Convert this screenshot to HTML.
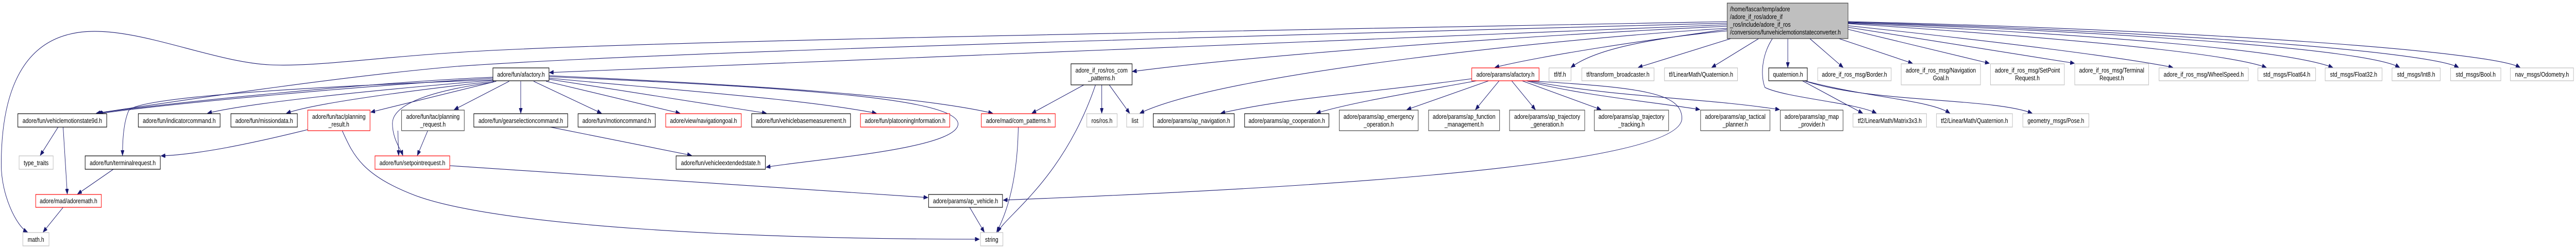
<!DOCTYPE html>
<html><head><meta charset="utf-8"><style>
html,body{margin:0;padding:0;background:#fff;overflow:hidden;width:100%;height:100%;}
svg{display:block;width:100vw;height:100vh;}
text{font-family:"Liberation Sans",Arial,sans-serif;font-size:13px;fill:#000;}
.e{fill:none;stroke:#191970;stroke-width:1.1;marker-end:url(#a);}
.b{fill:#fff;stroke:#000;stroke-width:1.2;}
.r{fill:#fff;stroke:#ff0000;stroke-width:1.2;}
.g{fill:#fff;stroke:#bfbfbf;stroke-width:1.2;}
.d{fill:#fff;stroke:#404040;stroke-width:1.2;}
</style></head><body>
<svg viewBox="0 0 6203 484" preserveAspectRatio="none" xmlns="http://www.w3.org/2000/svg">
<defs><marker id="a" markerUnits="userSpaceOnUse" markerWidth="11" markerHeight="8" refX="10" refY="4" orient="auto"><path d="M0,0 L10,4 L0,8 z" fill="#191970" stroke="#191970"/></marker></defs>

<path class="e" d="M4159,42 C3000,60 1500,80 1100,102 C900,112 760,130 650,126 C500,120 300,40 170,66 C40,90 3,200 3,320 C3,380 40,440 66,451"/>
<path class="e" d="M4159,45 C3000,70 1600,100 1100,129 C800,150 400,200 232,220"/>
<path class="e" d="M4159,48 C3500,70 2500,100 1323,141"/>
<path class="e" d="M4159,51 C3600,72 3000,110 2727,139"/>
<path class="e" d="M4159,55 C3800,72 2950,140 2745,220"/>
<path class="e" d="M4159,60 C4000,72 3700,110 3600,131"/>
<path class="e" d="M4159,57 C4000,75 3850,90 3783,131"/>
<path class="e" d="M4168,75 L3945,131"/>
<path class="e" d="M4235,75 L4122,131"/>
<path class="e" d="M4305,75 L4305,131"/>
<path class="e" d="M4358,75 L4438,131"/>
<path class="e" d="M4428,75 L4605,123"/>
<path class="e" d="M4450,57 L4790,123"/>
<path class="e" d="M4450,53 L4995,123"/>
<path class="e" d="M4450,50 C4800,80 5100,110 5232,131"/>
<path class="e" d="M4450,46 C4900,70 5350,100 5457,131"/>
<path class="e" d="M4450,45 C5000,65 5500,95 5617,131"/>
<path class="e" d="M4450,44 C5100,62 5700,95 5778,131"/>
<path class="e" d="M4450,43 C5200,60 5850,100 5920,131"/>
<path class="e" d="M4450,42 C5300,58 6000,100 6068,131"/>
<path class="e" d="M4268,75 C4240,110 4240,150 4250,170 C4300,190 4470,200 4518,220"/>
<path class="e" d="M1187,150 C900,160 400,200 236,220"/>
<path class="e" d="M1187,152 C900,165 420,200 238,221"/>
<path class="e" d="M1187,155 C700,170 330,190 310,215 C296,240 295,280 295,302"/>
<path class="e" d="M1187,156 C900,175 600,200 500,220"/>
<path class="e" d="M1190,158 C1000,175 760,200 690,220"/>
<path class="e" d="M1195,158 L893,218"/>
<path class="e" d="M1187,160 C1050,175 945,200 945,240 C945,270 965,290 970,302"/>
<path class="e" d="M1226,158 L1094,213"/>
<path class="e" d="M1254,158 L1254,220"/>
<path class="e" d="M1285,158 L1448,220"/>
<path class="e" d="M1315,158 L1637,220"/>
<path class="e" d="M1322,154 L1845,220"/>
<path class="e" d="M1322,152 C1700,180 1950,195 2110,220"/>
<path class="e" d="M1322,147 C1800,165 2200,185 2390,220"/>
<path class="e" d="M1322,149 C1900,170 2300,190 2307,240 C2310,290 1950,310 1845,325"/>
<path class="e" d="M1325,247 L1665,302"/>
<path class="e" d="M741,252 C600,280 480,300 388,303"/>
<path class="e" d="M958,254 L960,302"/>
<path class="e" d="M824,254 C850,300 870,340 1000,380 C1200,440 1800,465 2358,465"/>
<path class="e" d="M1030,254 L1005,302"/>
<path class="e" d="M1083,322 C1500,345 2000,370 2234,384"/>
<path class="e" d="M140,247 L97,302"/>
<path class="e" d="M152,247 L162,377"/>
<path class="e" d="M273,329 L187,377"/>
<path class="e" d="M152,403 L104,451"/>
<path class="e" d="M2610,165 L2485,220"/>
<path class="e" d="M2638,165 C2560,350 2420,420 2403,451"/>
<path class="e" d="M2653,165 L2653,220"/>
<path class="e" d="M2671,165 L2720,220"/>
<path class="e" d="M2452,247 C2450,360 2420,420 2400,451"/>
<path class="e" d="M2335,403 L2370,451"/>
<path class="e" d="M3544,153 C3300,180 3100,190 2940,220"/>
<path class="e" d="M3556,157 C3400,180 3250,200 3170,220"/>
<path class="e" d="M3585,157 L3388,213"/>
<path class="e" d="M3610,157 L3553,213"/>
<path class="e" d="M3640,157 L3697,213"/>
<path class="e" d="M3665,157 L3855,213"/>
<path class="e" d="M3675,157 C3800,185 4000,200 4093,213"/>
<path class="e" d="M3680,157 C3900,190 4100,190 4285,213"/>
<path class="e" d="M3680,157 C3950,170 4050,180 4050,230 C4050,330 3000,370 2416,389"/>
<path class="e" d="M4340,157 L4485,220"/>
<path class="e" d="M4345,157 C4500,190 4650,195 4695,220"/>
<path class="e" d="M4345,157 C4500,200 4800,190 4893,220"/>

<rect x="4159" y="6" width="291" height="69" fill="#bfbfbf" stroke="#404040" stroke-width="1.2"/>
<text x="4166" y="22">/home/fascar/temp/adore</text>
<text x="4166" y="37">/adore_if_ros/adore_if</text>
<text x="4166" y="52">_ros/include/adore_if_ros</text>
<text x="4166" y="67">/conversions/funvehiclemotionstateconverter.h</text>

<rect class="b" x="1187" y="132" width="135" height="25"/><text x="1254.5" y="149" text-anchor="middle">adore/fun/afactory.h</text>
<rect class="r" x="3544" y="132" width="162" height="25"/><text x="3625" y="149" text-anchor="middle">adore/params/afactory.h</text>
<rect class="g" x="3730" y="132" width="53" height="25"/><text x="3756.5" y="149" text-anchor="middle">tf/tf.h</text>
<rect class="g" x="3809" y="132" width="174" height="25"/><text x="3896" y="149" text-anchor="middle">tf/transform_broadcaster.h</text>
<rect class="g" x="4008" y="132" width="176" height="25"/><text x="4096" y="149" text-anchor="middle">tf/LinearMath/Quaternion.h</text>
<rect class="b" x="4259" y="132" width="93" height="25"/><text x="4305.5" y="149" text-anchor="middle">quaternion.h</text>
<rect class="g" x="4377" y="132" width="177" height="25"/><text x="4465.5" y="149" text-anchor="middle">adore_if_ros_msg/Border.h</text>
<rect class="g" x="5199" y="132" width="215" height="25"/><text x="5306.5" y="149" text-anchor="middle">adore_if_ros_msg/WheelSpeed.h</text>
<rect class="g" x="5437" y="132" width="139" height="25"/><text x="5506.5" y="149" text-anchor="middle">std_msgs/Float64.h</text>
<rect class="g" x="5599" y="132" width="137" height="25"/><text x="5667.5" y="149" text-anchor="middle">std_msgs/Float32.h</text>
<rect class="g" x="5760" y="132" width="116" height="25"/><text x="5818" y="149" text-anchor="middle">std_msgs/Int8.h</text>
<rect class="g" x="5901" y="132" width="121" height="25"/><text x="5961.5" y="149" text-anchor="middle">std_msgs/Bool.h</text>
<rect class="g" x="6045" y="132" width="152" height="25"/><text x="6121" y="149" text-anchor="middle">nav_msgs/Odometry.h</text>

<rect class="b" x="2579" y="124" width="147" height="41"/><text x="2652.5" y="141" text-anchor="middle">adore_if_ros/ros_com</text><text x="2652.5" y="156" text-anchor="middle">_patterns.h</text>
<rect class="g" x="4578" y="124" width="191" height="41"/><text x="4673.5" y="141" text-anchor="middle">adore_if_ros_msg/Navigation</text><text x="4673.5" y="156" text-anchor="middle">Goal.h</text>
<rect class="g" x="4793" y="124" width="178" height="41"/><text x="4882" y="141" text-anchor="middle">adore_if_ros_msg/SetPoint</text><text x="4882" y="156" text-anchor="middle">Request.h</text>
<rect class="g" x="4996" y="124" width="178" height="41"/><text x="5085" y="141" text-anchor="middle">adore_if_ros_msg/Terminal</text><text x="5085" y="156" text-anchor="middle">Request.h</text>

<rect class="b" x="43" y="221" width="214" height="26"/><text x="150" y="239" text-anchor="middle">adore/fun/vehiclemotionstate9d.h</text>
<rect class="b" x="333" y="221" width="197" height="26"/><text x="431.5" y="239" text-anchor="middle">adore/fun/indicatorcommand.h</text>
<rect class="b" x="556" y="221" width="160" height="26"/><text x="636" y="239" text-anchor="middle">adore/fun/missiondata.h</text>
<rect class="b" x="1141" y="221" width="226" height="26"/><text x="1254" y="239" text-anchor="middle">adore/fun/gearselectioncommand.h</text>
<rect class="b" x="1392" y="221" width="186" height="26"/><text x="1485" y="239" text-anchor="middle">adore/fun/motioncommand.h</text>
<rect class="r" x="1603" y="221" width="182" height="26"/><text x="1694" y="239" text-anchor="middle">adore/view/navigationgoal.h</text>
<rect class="b" x="1810" y="221" width="238" height="26"/><text x="1929" y="239" text-anchor="middle">adore/fun/vehiclebasemeasurement.h</text>
<rect class="r" x="2072" y="221" width="215" height="26"/><text x="2179.5" y="239" text-anchor="middle">adore/fun/platooningInformation.h</text>
<rect class="r" x="2363" y="221" width="178" height="26"/><text x="2452" y="239" text-anchor="middle">adore/mad/com_patterns.h</text>
<rect class="g" x="2617" y="221" width="73" height="26"/><text x="2653.5" y="239" text-anchor="middle">ros/ros.h</text>
<rect class="g" x="2713" y="221" width="40" height="26"/><text x="2733" y="239" text-anchor="middle">list</text>
<rect class="b" x="2777" y="221" width="195" height="26"/><text x="2874.5" y="239" text-anchor="middle">adore/params/ap_navigation.h</text>
<rect class="b" x="2997" y="221" width="203" height="26"/><text x="3098.5" y="239" text-anchor="middle">adore/params/ap_cooperation.h</text>
<rect class="g" x="4462" y="221" width="177" height="26"/><text x="4550.5" y="239" text-anchor="middle">tf2/LinearMath/Matrix3x3.h</text>
<rect class="g" x="4663" y="221" width="183" height="26"/><text x="4754.5" y="239" text-anchor="middle">tf2/LinearMath/Quaternion.h</text>
<rect class="g" x="4871" y="221" width="159" height="26"/><text x="4950.5" y="239" text-anchor="middle">geometry_msgs/Pose.h</text>

<rect class="r" x="741" y="214" width="150" height="40"/><text x="816" y="231" text-anchor="middle">adore/fun/tac/planning</text><text x="816" y="246" text-anchor="middle">_result.h</text>
<rect class="d" x="967" y="214" width="151" height="40"/><text x="1042.5" y="231" text-anchor="middle">adore/fun/tac/planning</text><text x="1042.5" y="246" text-anchor="middle">_request.h</text>
<rect class="d" x="3225" y="214" width="190" height="40"/><text x="3320" y="231" text-anchor="middle">adore/params/ap_emergency</text><text x="3320" y="246" text-anchor="middle">_operation.h</text>
<rect class="d" x="3440" y="214" width="171" height="40"/><text x="3525.5" y="231" text-anchor="middle">adore/params/ap_function</text><text x="3525.5" y="246" text-anchor="middle">_management.h</text>
<rect class="d" x="3635" y="214" width="181" height="40"/><text x="3725.5" y="231" text-anchor="middle">adore/params/ap_trajectory</text><text x="3725.5" y="246" text-anchor="middle">_generation.h</text>
<rect class="d" x="3839" y="214" width="179" height="40"/><text x="3928.5" y="231" text-anchor="middle">adore/params/ap_trajectory</text><text x="3928.5" y="246" text-anchor="middle">_tracking.h</text>
<rect class="d" x="4095" y="214" width="167" height="40"/><text x="4178.5" y="231" text-anchor="middle">adore/params/ap_tactical</text><text x="4178.5" y="246" text-anchor="middle">_planner.h</text>
<rect class="d" x="4287" y="214" width="151" height="40"/><text x="4362.5" y="231" text-anchor="middle">adore/params/ap_map</text><text x="4362.5" y="246" text-anchor="middle">_provider.h</text>

<rect class="g" x="46" y="303" width="82" height="26"/><text x="87" y="321" text-anchor="middle">type_traits</text>
<rect class="b" x="205" y="303" width="181" height="26"/><text x="295.5" y="321" text-anchor="middle">adore/fun/terminalrequest.h</text>
<rect class="r" x="903" y="303" width="180" height="26"/><text x="993" y="321" text-anchor="middle">adore/fun/setpointrequest.h</text>
<rect class="b" x="1628" y="303" width="215" height="26"/><text x="1735.5" y="321" text-anchor="middle">adore/fun/vehicleextendedstate.h</text>

<rect class="r" x="86" y="378" width="158" height="25"/><text x="165" y="395" text-anchor="middle">adore/mad/adoremath.h</text>
<rect class="b" x="2236" y="378" width="178" height="25"/><text x="2325" y="395" text-anchor="middle">adore/params/ap_vehicle.h</text>

<rect class="g" x="55" y="452" width="63" height="26"/><text x="86.5" y="470" text-anchor="middle">math.h</text>
<rect class="g" x="2361" y="452" width="54" height="26"/><text x="2388" y="470" text-anchor="middle">string</text>
</svg>
</body></html>
